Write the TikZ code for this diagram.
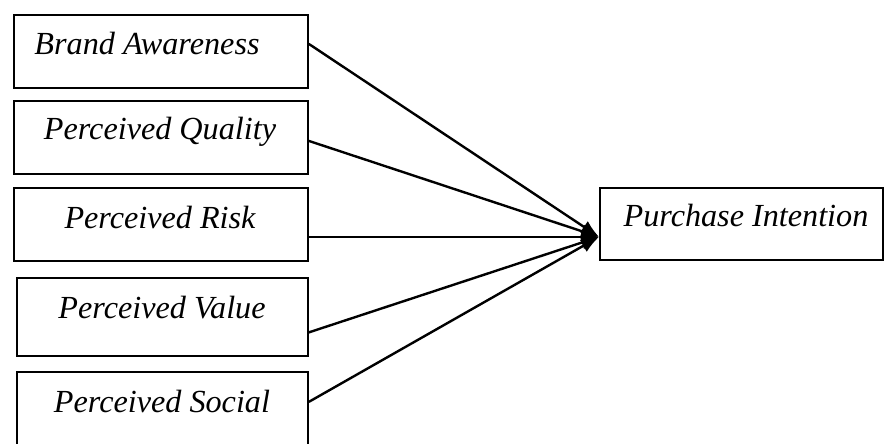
\documentclass[tikz,border=0pt]{standalone}
\usepackage{fontspec}
\setmainfont{Liberation Serif}
\usetikzlibrary{arrows.meta}

\begin{document}
\begin{tikzpicture}[x=0.5pt,y=-0.5pt,
  box/.style={draw,line width=0.9pt,fill=white,inner sep=0pt,anchor=north west},
  lbl/.style={font=\fontsize{16.1}{19}\selectfont\itshape,anchor=base,inner sep=0pt},
  link/.style={line width=1.2pt,-{Latex[length=9pt,width=7pt]}}]
  \useasboundingbox (0,0) rectangle (884,444);
  \clip (0,0) rectangle (884,444);
  \fill[white] (0,0) rectangle (884,444);

  % predictor boxes
  \node[box,minimum width=147pt,minimum height=36.5pt] (b1) at (13,14) {};
  \node[box,minimum width=147pt,minimum height=36.5pt] (b2) at (13,100) {};
  \node[box,minimum width=147pt,minimum height=36.5pt] (b3) at (13,187) {};
  \node[box,minimum width=145.5pt,minimum height=39pt] (b4) at (16,277) {};
  \node[box,minimum width=145.5pt,minimum height=39pt] (b5) at (16,371) {};

  % outcome box
  \node[box,minimum width=141.5pt,minimum height=36pt] (pi) at (599,187) {};

  % labels
  \node[lbl] (t1) at (147,55) {Brand Awareness};
  \node[lbl] (t2) at (160,140) {Perceived Quality};
  \node[lbl] (t3) at (160,228) {Perceived Risk};
  \node[lbl] (t4) at (162,318) {Perceived Value};
  \node[lbl] (t5) at (162,412) {Perceived Social};
  \node[lbl] (t6) at (746,227) {Purchase Intention};

  % paths into the outcome
  \coordinate (tip) at ([yshift=-6.5pt]pi.west);
  \draw[link] ([yshift=3.75pt]b1.east) -- (tip);
  \draw[link] ([yshift=-1.75pt]b2.east) -- (tip);
  \draw[link] ([yshift=-6.25pt]b3.east) -- (tip);
  \draw[link] ([yshift=-7.75pt]b4.east) -- (tip);
  \draw[link] ([yshift=4.5pt]b5.east) -- (tip);
\end{tikzpicture}
\end{document}
